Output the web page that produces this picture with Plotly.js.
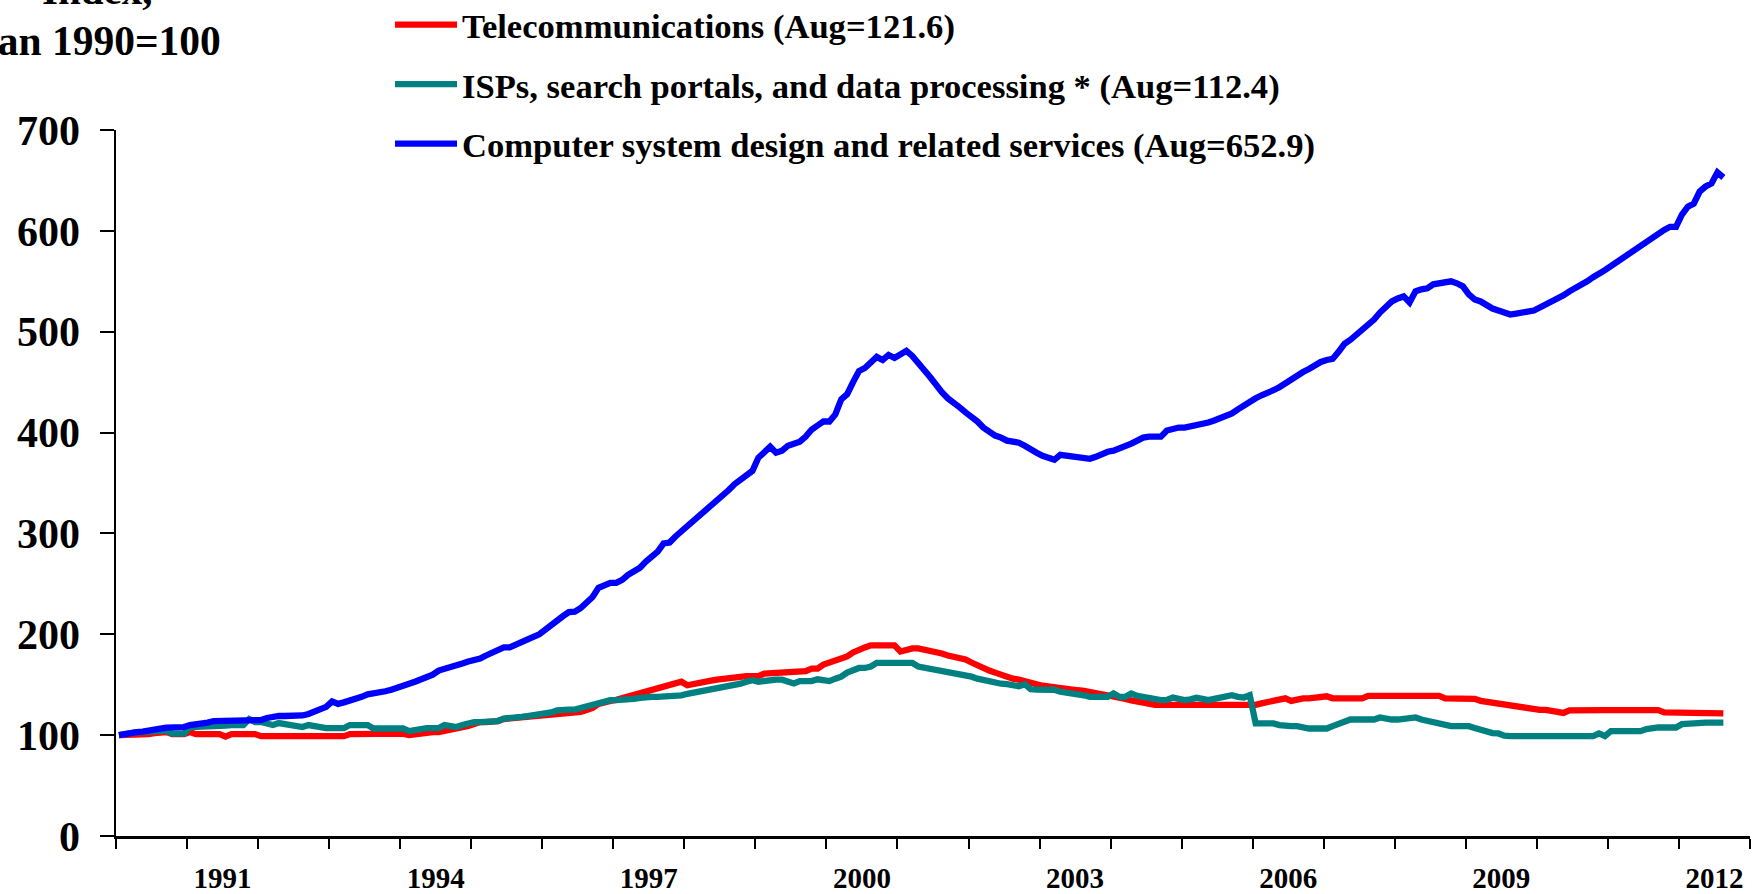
<!DOCTYPE html>
<html>
<head>
<meta charset="utf-8">
<script src="https://cdn.plot.ly/plotly-3.0.1.min.js"></script>
<style>
html,body{margin:0;padding:0;background:#ffffff;}
#chart{width:1758px;height:894px;}
</style>
</head>
<body>
<div id="chart"></div>
<script>
// Monthly index values, Jan 1990 = 100, from Jan 1990 through Aug 2012
const startYear = 1990;

const seriesNames = [
  "Telecommunications (Aug=121.6)",
  "ISPs, search portals, and data processing * (Aug=112.4)",
  "Computer system design and related services (Aug=652.9)"
];

const telecom = [
  100, 100, 100.5, 101, 101, 101, 102, 103, 103, 101, 101, 101,            // 1990
  103, 101, 101, 101, 101, 101, 98.5, 101, 101, 101, 101, 101,             // 1991
  99, 99, 99, 99, 99, 99, 99, 99, 99, 99, 99, 99,                          // 1992
  99, 99, 99, 101, 101, 101, 101, 101.5, 101.5, 102, 102, 102,             // 1993
  101.5, 100, 101, 102, 102, 103, 103, 104, 104.5, 105.5, 107, 109,        // 1994
  111, 113, 113, 113, 114, 116, 116.5, 116.5, 116.5, 117, 117.5, 118,      // 1995
  119, 120, 120, 121, 121.5, 122, 123, 125, 127, 131, 133, 134,            // 1996
  135, 136.5, 138, 140, 141.5, 143, 145, 146, 148, 149, 151, 153,          // 1997
  149.5, 151, 152, 153, 154, 155, 156, 156, 156.5, 158, 158.5, 158.5,      // 1998
  158.5, 161, 161.5, 162, 162.5, 163, 163, 163, 163.5, 166, 166, 170,      // 1999
  172, 174, 175, 178, 182, 185, 187, 189, 189, 189, 189, 189,              // 2000
  183, 185, 186, 186, 185, 184, 183, 181, 179, 178, 177, 175,              // 2001
  172, 169, 166, 164, 162, 160, 157, 156, 155, 154, 152, 150.5,            // 2002
  149, 148, 147, 146, 145.5, 145, 144.5, 144, 143, 142, 141, 140.5,        // 2003
  139, 137, 136, 134.5, 133, 132, 131, 130, 130, 130, 130, 130,            // 2004
  130, 130, 130, 130, 129.5, 129, 129, 128.7, 128.7, 128.7, 128.7, 128.7,  // 2005
  130, 131.5, 132.5, 134.5, 135, 136.5, 134, 136, 136.5, 136.5, 137, 137,  // 2006
  138.5, 136.5, 136.5, 136.5, 136.5, 136.5, 136.5, 139, 139, 139, 139, 139,// 2007
  139, 139, 139, 139, 139, 139, 139, 139, 136.5, 136.5, 136.5, 136.5,      // 2008
  136.5, 136, 134, 133, 132, 131, 130, 129, 128, 127, 126.5, 125.7,        // 2009
  125, 125, 124, 122, 122, 124.5, 124.8, 124.8, 124.8, 124.8, 124.8, 124.8,// 2010
  124.8, 124.8, 124.8, 124.8, 124.8, 124.8, 124.8, 124.8, 124.8, 122.5, 122.5, 122.5, // 2011
  122.5, 122.5, 122.5, 122.5, 122.5, 121.6, 121.6, 121.6                   // 2012
];

const isps = [
  100, 101.5, 103, 103, 103, 103.5, 104, 104.5, 104.5, 101.5, 101.5, 101.5, // 1990
  108, 108, 108, 108.5, 109, 109, 109.5, 110, 110, 110, 116, 113,           // 1991
  113, 111, 110, 112, 111, 110, 108, 108, 110, 109, 107, 107,               // 1992
  107, 107, 107, 110, 110, 110, 110, 106.6, 106.6, 106.6, 106.6, 106.6,     // 1993
  106.6, 104, 105, 107, 107, 107, 107, 110, 109, 108, 110, 112,             // 1994
  113, 113, 113, 113, 114, 116.5, 116.5, 117, 118, 118.8, 119.5, 120,       // 1995
  121, 122.5, 124.5, 125.4, 125.4, 125.4, 127, 129, 130.5, 132, 133.5, 134.7, // 1996
  134.7, 134.7, 135, 136, 137, 138, 138, 138, 138, 138, 138, 139.5,         // 1997
  141, 142, 143.5, 144.5, 145, 146, 147, 148, 150, 151, 153, 154.5,         // 1998
  153, 154, 154.5, 155, 155, 153, 151.2, 153.6, 153.6, 153.6, 155.4, 154,   // 1999
  153.6, 156, 158, 162, 164, 166.6, 166.6, 168, 171.6, 171.6, 171.6, 171.6, // 2000
  171.6, 171.6, 171.6, 168, 167, 165.5, 165, 164, 163, 162, 161, 159.5,     // 2001
  158, 156, 154.5, 154, 152, 151, 150.5, 149, 148.5, 150.5, 145.5, 145.2,   // 2002
  145.2, 145.2, 145, 143, 142.5, 141.5, 140.5, 139.5, 138, 137.9, 137.9, 137.9, // 2003
  141.3, 137.9, 138, 141.3, 139, 137.9, 136.5, 135.5, 134.7, 135, 137.3, 136,   // 2004
  134.7, 135.5, 137, 136, 134.7, 136, 137.3, 137.3, 139.6, 138, 137.3, 139.6,   // 2005
  111.6, 111.6, 111.6, 111.6, 110, 108.9, 108.9, 108.9, 107.5, 106.6, 106.6, 106.6, // 2006
  106.6, 109, 111.6, 113.5, 115.5, 115.5, 115.5, 115.5, 115.5, 117.5, 116, 115.5,   // 2007
  115.5, 116, 117.5, 117.5, 115.5, 114.2, 112.5, 110.9, 110, 108.9, 108.9, 108.9,   // 2008
  108.9, 107, 105, 103.5, 102, 101.7, 99.5, 99, 99, 99, 99, 99,             // 2009
  97.7, 99, 99, 99, 99, 99, 99, 99, 99, 99, 101.7, 99,                      // 2010
  104, 104, 104, 104, 104, 104, 106, 107.6, 107.6, 107.6, 107.6, 107.6,     // 2011
  110.9, 111.5, 112.2, 112.2, 112.4, 112.4, 112.4, 112.4                    // 2012
];

const computer = [
  100, 101.5, 103, 103, 103.5, 104, 105.5, 106.5, 107.5, 107.5, 107.5, 108, // 1990
  110, 110.5, 112, 112.5, 114, 114, 114, 114, 114, 114, 114.5, 114.5,       // 1991
  115, 117, 118.5, 119, 119, 119, 119, 119.5, 121, 123, 125, 128,           // 1992
  133.5, 131, 132.5, 134, 136, 138, 140.5, 141, 141.5, 143.5, 145, 146.5,   // 1993
  148.5, 151, 153, 155, 157, 160, 164, 165.5, 166.5, 169, 171, 173,         // 1994
  174, 176, 179, 182, 185, 187, 187, 190, 193, 195, 197.5, 200,             // 1995
  205, 210, 214.5, 218, 222, 222.5, 226, 231, 237, 246, 249, 251,           // 1996
  251, 254, 259, 263, 266, 272, 277, 282, 290, 291, 297, 302,               // 1997
  306, 311, 316, 322, 327, 331, 337, 343, 349, 354, 359, 362,               // 1998
  375, 380, 386, 380, 382, 387, 389, 391, 396, 403, 407, 411,               // 1999
  411, 418, 433, 438, 450, 461, 464, 470, 475, 472, 477, 474,               // 2000
  478, 481, 476, 468, 462, 455, 447, 440, 434, 430, 425, 420,               // 2001
  416, 411, 405, 400, 397, 395, 392, 391, 390, 387, 383, 380,               // 2002
  377, 375, 373, 378, 377, 376, 375, 373.5, 374, 376, 379, 381,             // 2003
  382, 384, 386, 389, 392, 395, 396, 396, 396, 402, 404, 405,               // 2004
  405, 406, 407, 408, 410, 412, 414, 416, 419, 423, 427, 430,               // 2005
  434, 437, 439, 442, 445, 449, 452, 456, 460, 463, 467, 470,               // 2006
  472, 473, 480, 488, 492, 497, 503, 506, 512, 519, 525, 530,               // 2007
  533, 535, 529, 540, 542, 543, 547, 548, 549, 550, 548, 545,               // 2008
  537, 532, 530, 526, 523, 521, 519, 517, 518, 519, 519, 521,               // 2009
  524, 527, 530, 532, 536, 540, 543, 546, 550, 554, 557, 561,               // 2010
  565, 569, 573, 577, 581, 586, 590, 594, 598, 601, 604, 604,               // 2011
  616, 624, 627, 639, 644, 647, 658, 652.9                                  // 2012
];

const yearLabels = ["1991", "1994", "1997", "2000", "2003", "2006", "2009", "2012"];
const yearBoundaries = [1990, 1991, 1992, 1993, 1994, 1995, 1996, 1997, 1998, 1999, 2000, 2001,
                        2002, 2003, 2004, 2005, 2006, 2007, 2008, 2009, 2010, 2011, 2012, 2013];
const yTicks = [0, 100, 200, 300, 400, 500, 600, 700];
const colors = ["#FF0000", "#008080", "#0000FF"];

// each month sits in the middle of its slot on the yearly axis
const months = computer.map((_, i) => startYear + (i + 0.5) / 12);
// year labels sit in the middle of their year
const labelPos = yearLabels.map(y => Number(y) + 0.5);

const FONT = "Liberation Serif, 'Times New Roman', Times, serif";

const allSeries = [telecom, isps, computer];
const traces = allSeries.map((vals, k) => ({
  type: "scatter",
  mode: "lines",
  x: months,
  y: vals,
  name: seriesNames[k],
  legendgroup: "g" + k,
  line: {color: colors[k], width: 6.3, shape: "linear"},
  hoverinfo: "x+y+name"
}));

const layout = {
  width: 1758,
  height: 894,
  paper_bgcolor: "#ffffff",
  plot_bgcolor: "#ffffff",
  margin: {l: 116, r: 8, t: 130, b: 58, autoexpand: false},
  showlegend: true,
  legend: {
    x: 0.1677, y: 1.1902, xanchor: "left", yanchor: "top",
    bgcolor: "rgba(0,0,0,0)",
    font: {family: FONT, size: 34.6, color: "#000000", weight: "bold"},
    itemwidth: 62,
    tracegroupgap: 11.5,
    traceorder: "grouped"
  },
  xaxis: {
    range: [1990, 2013],
    tickmode: "array",
    tickvals: labelPos,
    ticktext: yearLabels,
    ticks: "outside",
    ticklen: 10,
    tickcolor: "rgba(0,0,0,0)",
    ticklabelstandoff: 4,
    tickfont: {family: FONT, size: 29, color: "#000000", weight: "bold"},
    minor: {
      tickmode: "array",
      tickvals: yearBoundaries,
      ticks: "outside",
      ticklen: 10,
      tickwidth: 2,
      tickcolor: "#000000",
      showgrid: false
    },
    showline: true,
    linecolor: "#000000",
    linewidth: 3,
    showgrid: false,
    zeroline: false,
    fixedrange: true
  },
  yaxis: {
    range: [0, 700],
    tickmode: "array",
    tickvals: yTicks,
    ticktext: yTicks.map(String),
    ticks: "outside",
    ticklen: 14,
    tickwidth: 2,
    tickcolor: "#000000",
    ticklabelstandoff: 11,
    tickfont: {family: FONT, size: 42, color: "#000000", weight: "bold"},
    showline: true,
    linecolor: "#000000",
    linewidth: 2.5,
    showgrid: false,
    zeroline: false,
    fixedrange: true
  },
  annotations: [
    {
      text: "Index,", xref: "paper", yref: "paper",
      x: -0.0116, y: 1.199, xanchor: "center", yanchor: "middle",
      showarrow: false,
      font: {family: FONT, size: 41, color: "#000000", weight: "bold"}
    },
    {
      text: "Jan 1990=100", xref: "paper", yref: "paper",
      x: -0.0105, y: 1.1255, xanchor: "center", yanchor: "middle",
      showarrow: false,
      font: {family: FONT, size: 41.5, color: "#000000", weight: "bold"}
    }
  ]
};

Plotly.newPlot("chart", traces, layout, {displayModeBar: false, responsive: false, staticPlot: true});
</script>
</body>
</html>
